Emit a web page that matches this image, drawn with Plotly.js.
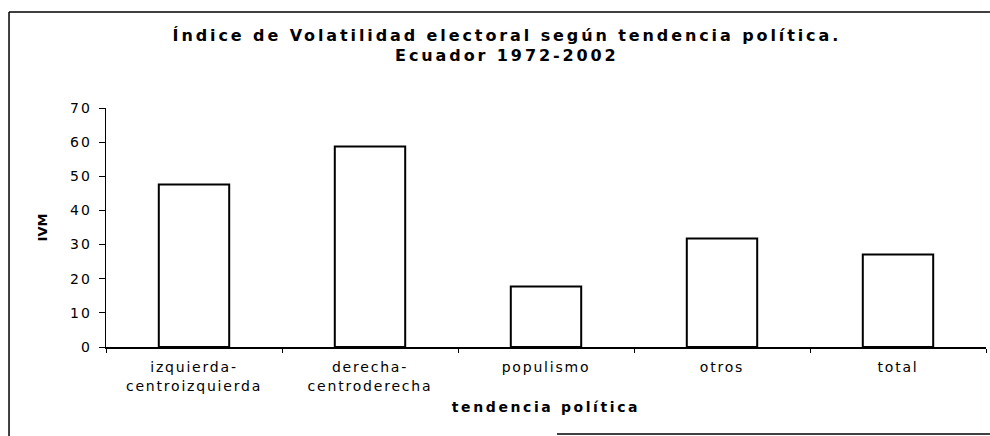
<!DOCTYPE html>
<html>
<head>
<meta charset="utf-8">
<script src="https://cdn.plot.ly/plotly-3.0.1.min.js"></script>
<style>
  html, body { margin: 0; padding: 0; background: #fff; }
  #chart { width: 990px; height: 436px; }
  .gtitle { letter-spacing: 2.9px; }
  .xtitle { letter-spacing: 2.6px; }
  .xtick text { letter-spacing: 1.8px; }
  .ytick text { letter-spacing: 2.2px; }
</style>
</head>
<body>
<div id="chart"></div>
<script>
const categories = ["izquierda-<br>centroizquierda", "derecha-<br>centroderecha", "populismo", "otros", "total"];
const ivmValues = [47.6, 58.7, 17.7, 31.8, 27.1];
const yTickValues = [0, 10, 20, 30, 40, 50, 60, 70];
const titleText = "Índice de Volatilidad electoral según tendencia política.<br>Ecuador 1972-2002";
const xTitleText = "tendencia política";
const yTitleText = "IVM";

const trace = {
  type: "bar",
  x: categories,
  y: ivmValues,
  marker: { color: "#ffffff", line: { color: "#000000", width: 2 } },
  hoverinfo: "x+y"
};

const layout = {
  width: 990,
  height: 436,
  margin: { l: 106, r: 4, t: 108, b: 89 },
  paper_bgcolor: "#ffffff",
  plot_bgcolor: "#ffffff",
  showlegend: false,
  bargap: 0.6,
  font: { family: "DejaVu Sans", color: "#000000" },
  title: {
    text: titleText,
    font: { family: "DejaVu Sans", size: 16, weight: "bold", color: "#000000" },
    xref: "container", x: 0.512, xanchor: "center",
    yref: "container", y: 0.907, yanchor: "middle"
  },
  xaxis: {
    type: "category",
    showline: true, linecolor: "#000000", linewidth: 1.5,
    ticks: "outside", tickson: "boundaries", ticklen: 4, tickcolor: "#000000", tickwidth: 1,
    ticklabelstandoff: 7,
    showgrid: false, zeroline: false,
    tickfont: { family: "DejaVu Sans", size: 14, color: "#000000" },
    title: {
      text: xTitleText,
      font: { family: "DejaVu Sans", size: 14, weight: "bold", color: "#000000" },
      standoff: 9
    },
    fixedrange: true
  },
  yaxis: {
    range: [0, 70],
    tickvals: yTickValues,
    showline: true, linecolor: "#000000", linewidth: 1,
    ticks: "outside", ticklen: 6, tickcolor: "#000000", tickwidth: 1,
    ticklabelstandoff: 4,
    showgrid: false, zeroline: false,
    tickfont: { family: "DejaVu Sans", size: 14, color: "#000000" },
    title: {
      text: yTitleText,
      font: { family: "DejaVu Sans", size: 13, weight: "bold", color: "#000000" },
      standoff: 19
    },
    fixedrange: true
  },
  shapes: [
    { type: "line", xref: "paper", yref: "paper", x0: -0.1102, x1: -0.1102, y0: 1.4017, y1: -0.3724, line: { color: "#000000", width: 1.5 } },
    { type: "line", xref: "paper", yref: "paper", x0: -0.1102, x1: 1.0045, y0: 1.4017, y1: 1.4017, line: { color: "#000000", width: 1.5 } },
    { type: "line", xref: "paper", yref: "paper", x0: 0.5125, x1: 1.0045, y0: -0.364, y1: -0.364, line: { color: "#000000", width: 1.5 } }
  ]
};

Plotly.newPlot("chart", [trace], layout, { displayModeBar: false, staticPlot: true });
</script>
</body>
</html>
